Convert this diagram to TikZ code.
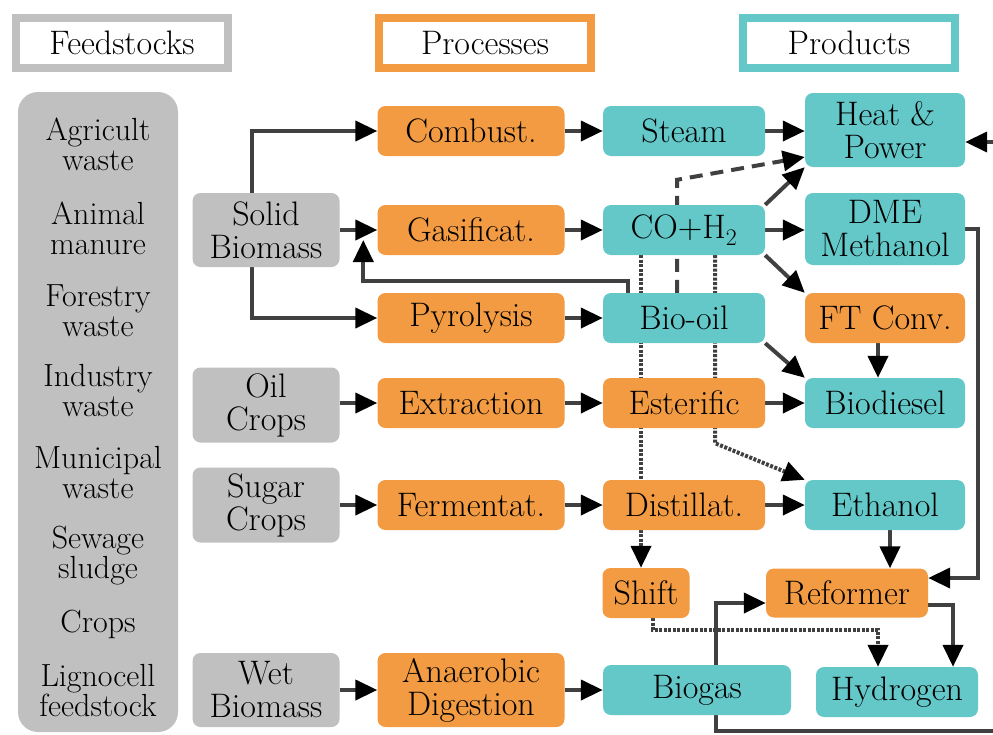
\documentclass[tikz,border=0pt]{standalone}
\usetikzlibrary{arrows.meta,backgrounds,positioning}

\definecolor{feedgrey}{HTML}{C0C0C0}
\definecolor{procorange}{HTML}{F29B42}
\definecolor{prodcyan}{HTML}{64C8C9}
\definecolor{linkgrey}{HTML}{404040}

\tikzset{
    nodebox/.style={rounded corners=8pt, inner sep=0pt, align=center,
        font=\fontsize{34}{33}\selectfont},
    feedbox/.style={nodebox, fill=feedgrey, minimum width=147pt, minimum height=74pt},
    procbox/.style={nodebox, fill=procorange, minimum width=187pt, minimum height=50pt},
    prodbox/.style={nodebox, fill=prodcyan, minimum width=162pt, minimum height=50pt},
    headbox/.style={draw=#1, line width=8pt, minimum width=212pt, minimum height=50pt,
        inner sep=0pt, font=\fontsize{34}{33}\selectfont},
    feeditem/.style={align=center, inner sep=0pt, font=\fontsize{32}{30}\selectfont},
    link/.style={draw=linkgrey, line width=4pt,
        -{Triangle[length=22pt,width=20pt,color=black]}},
    dotlink/.style={link, dash pattern=on 3pt off 1.5pt},
    dashlink/.style={link, dash pattern=on 13pt off 8pt},
}

\begin{document}
\begin{tikzpicture}[x=1pt, y=-1pt]
        \path[use as bounding box, clip] (0,0) rectangle (993,734);

        % Column headers
        \node[headbox=feedgrey] (hfeed) at (122,43) {Feedstocks};
        \node[headbox=procorange] (hproc) at (485,43) {Processes};
        \node[headbox=prodcyan] (hprod) at (849,43) {Products};

        % Feedstock list
        \node[nodebox, fill=feedgrey, rounded corners=20pt, minimum width=160pt,
            minimum height=640pt] (feeds) at (98,412) {};
        \node[feeditem] (agr) at (98,144) {Agricult\\waste};
        \node[feeditem] (ani) at (98,228) {Animal\\manure};
        \node[feeditem] (for) at (98,311) {Forestry\\waste};
        \node[feeditem] (ind) at (98,391) {Industry\\waste};
        \node[feeditem] (mun) at (98,473) {Municipal\\waste};
        \node[feeditem] (sew) at (98,556) {Sewage\\sludge};
        \node[feeditem] (crp) at (98,624) {Crops};
        \node[feeditem] (lig) at (98,691) {Lignocell\\feedstock};

        % Biomass types
        \node[feedbox] (sol) at (266,230) {Solid\\Biomass};
        \node[feedbox, minimum height=75pt] (oil) at (266,405) {Oil\\Crops};
        \node[feedbox, minimum height=75pt] (sug) at (266,505) {Sugar\\Crops};
        \node[feedbox] (wet) at (266,690) {Wet\\Biomass};

        % Conversion processes
        \node[procbox] (com) at (471,131) {Combust.};
        \node[procbox] (gas) at (471,230) {Gasificat.};
        \node[procbox] (pyr) at (471,318) {Pyrolysis};
        \node[procbox] (ext) at (471,403) {Extraction};
        \node[procbox] (fer) at (471,505) {Fermentat.};
        \node[procbox, minimum height=74pt] (ana) at (471,690) {Anaerobic\\Digestion};

        % Intermediates
        \node[prodbox] (stm) at (684,131) {Steam};
        \node[prodbox] (syn) at (684,230) {CO+H\textsubscript{2}};
        \node[prodbox] (bio) at (684,318) {Bio-oil};
        \node[procbox, minimum width=162pt] (est) at (684,403) {Esterific};
        \node[procbox, minimum width=162pt] (dis) at (684,505) {Distillat.};
        \node[procbox, minimum width=87pt] (sft) at (646,593) {Shift};
        \node[prodbox, minimum width=188pt] (bgs) at (697,690) {Biogas};

        % Products
        \node[prodbox, minimum width=160pt, minimum height=74pt] (hp) at (885,130) {Heat \&\\Power};
        \node[prodbox, minimum width=160pt, minimum height=72pt] (dme) at (885,229) {DME\\Methanol};
        \node[procbox, minimum width=160pt] (ftc) at (885,318) {FT Conv.};
        \node[prodbox, minimum width=160pt] (bdl) at (885,403) {Biodiesel};
        \node[prodbox, minimum width=160pt] (eth) at (885,505) {Ethanol};
        \node[procbox, minimum width=162pt, minimum height=49pt] (ref) at (847,593) {Reformer};
        \node[prodbox] (hyd) at (897,692) {Hydrogen};

        \begin{scope}[on background layer]
            % Biomass to processes
            \draw[link] ([xshift=-14pt]sol.north) |- (com.west);
            \draw[link] (sol.east) -- (gas.west);
            \draw[link] ([xshift=-14pt]sol.south) |- (pyr.west);
            \draw[link] (oil.east |- ext.west) -- (ext.west);
            \draw[link] (sug.east) -- (fer.west);
            \draw[link] (wet.east) -- (ana.west);

            % Processes to intermediates
            \draw[link] (com.east) -- (stm.west);
            \draw[link] (gas.east) -- (syn.west);
            \draw[link] (pyr.east) -- (bio.west);
            \draw[link] (ext.east) -- (est.west);
            \draw[link] (fer.east) -- (dis.west);
            \draw[link] (ana.east) -- (bgs.west);
            \draw[link] ([xshift=-56pt]bio.north) -- ++(0,-12)
                -| ([xshift=-14pt,yshift=-10pt]gas.west);

            % Intermediates to products
            \draw[link] (stm.east) -- (stm.east -| hp.west);
            \draw[link] (syn.north east) -- (hp.south west);
            \draw[dashlink] ([xshift=-7pt]bio.north) -- ++(0,-113)
                -- ([yshift=-27pt]hp.west);
            \draw[link] (syn.east) -- (syn.east -| dme.west);
            \draw[link] (syn.south east) -- (ftc.north west);
            \draw[link] (bio.south east) -- (bdl.north west);
            \draw[link] ([xshift=-7pt]ftc.south) -- ([xshift=-7pt]bdl.north);
            \draw[link] (est.east) -- (bdl.west);
            \draw[dotlink] ([xshift=-43pt]syn.south)
                -- ([xshift=-43pt]syn.south |- sft.north);
            \draw[dotlink] ([xshift=31pt]syn.south) -- ++(0,188) -- (eth.north west);
            \draw[link] (dis.east) -- (eth.west);

            % Hydrogen routes
            \draw[link] ([xshift=5pt]eth.south) -- ([xshift=5pt]eth.south |- ref.north);
            \draw[link] (dme.east) -- ++(13,0) |- ([yshift=15pt]ref.east);
            \draw[link] ([yshift=-12pt]ref.east) -| ([xshift=56pt]hyd.north);
            \draw[dotlink] ([xshift=7pt]sft.south) -- ++(0,12) -| ([xshift=-19pt]hyd.north);
            \draw[link] ([xshift=19pt]bgs.north) |- ([yshift=-10pt]ref.west);
            \draw[link] ([xshift=19pt]bgs.south) -- ++(0,16) -| (1010,300)
                |- ([yshift=-12pt]hp.east);
        \end{scope}

\end{tikzpicture}
\end{document}
